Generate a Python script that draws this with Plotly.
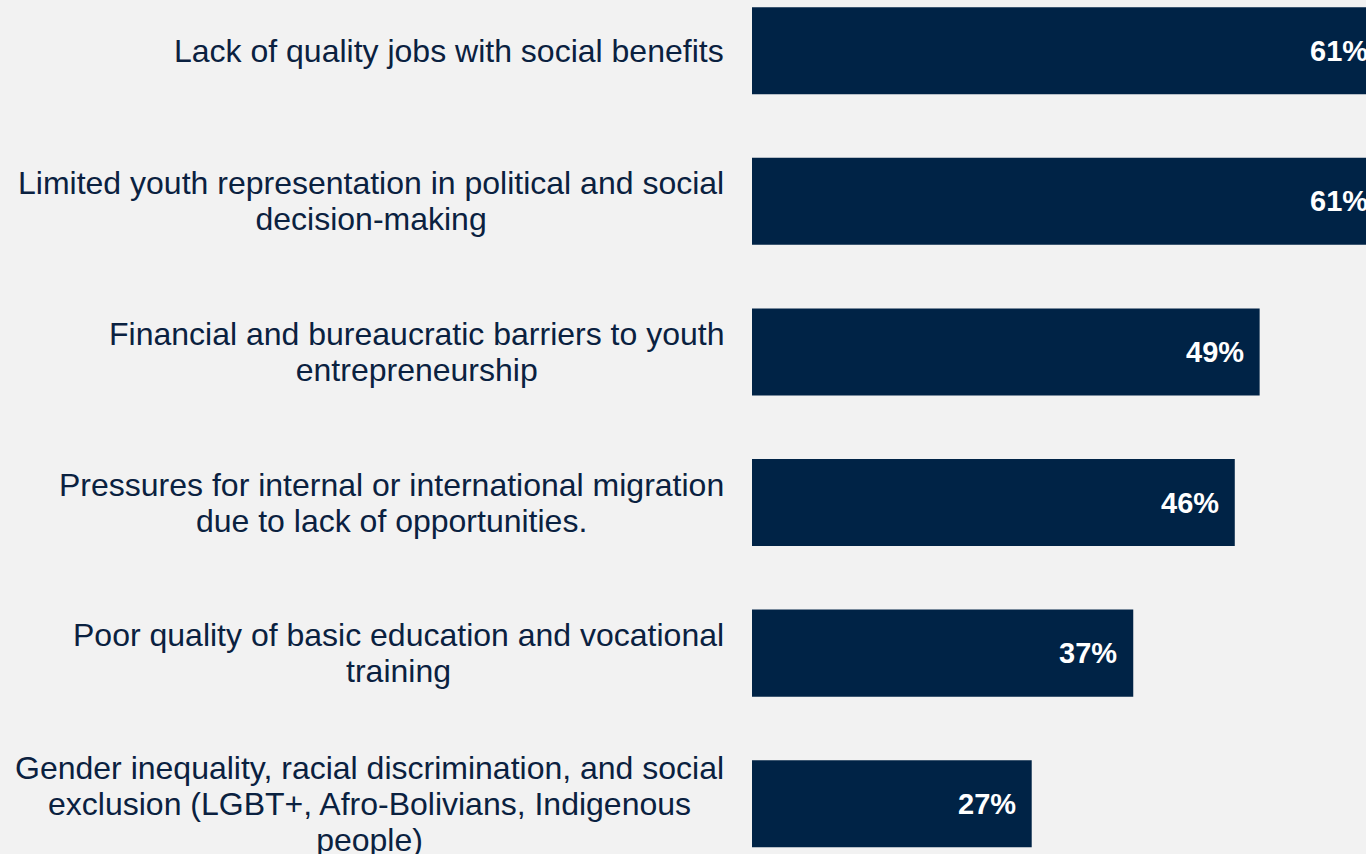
import plotly.graph_objects as go

# ---- data ----
categories = [
    "Lack of quality jobs with social benefits",
    "Limited youth representation in political and social<br>decision-making",
    "Financial and bureaucratic barriers to youth<br>entrepreneurship",
    "Pressures for internal or international migration<br>due to lack of opportunities.",
    "Poor quality of basic education and vocational<br>training",
    "Gender inequality, racial discrimination, and social<br>exclusion (LGBT+, Afro-Bolivians, Indigenous<br>people)",
]
values = [61, 61, 49, 46.6, 36.8, 27]          # bar lengths (%)
value_labels = ["61%", "61%", "49%", "46%", "37%", "27%"]  # printed labels

# ---- styling ----
BAR = "#002346"
TEXT = "#0a2140"
BG = "#f2f2f2"
FONT = "Liberation Sans, Arial, sans-serif"
W, H = 1366, 854
LEFT = 752
PX_PER_PCT = 10.36
LABEL_PX = 32
LINE_PX = 36

fig = go.Figure(
    go.Bar(
        x=values,
        y=categories,
        orientation="h",
        marker=dict(color=BAR, line=dict(width=0)),
        hoverinfo="skip",
    )
)

n = len(categories)
fig.update_layout(
    width=W,
    height=H,
    margin=dict(l=LEFT, r=0, t=0, b=0),
    paper_bgcolor=BG,
    plot_bgcolor=BG,
    bargap=0.422,
    showlegend=False,
    xaxis=dict(range=[0, (W - LEFT) / PX_PER_PCT], visible=False, fixedrange=True),
    yaxis=dict(
        type="category",
        categoryorder="array",
        categoryarray=categories,
        range=[n - 1 + 0.334, -0.337],
        visible=False,
        fixedrange=True,
    ),
)

# category labels: block right-aligned, lines centred, 32px glyphs on 36px line pitch
base_size = LINE_PX / 1.3
for i, cat in enumerate(categories):
    lines = cat.split("<br>")
    text = "<br>".join(f"<span style='font-size:{LABEL_PX}px'>{ln}</span>" for ln in lines)
    fig.add_annotation(
        x=0, xref="paper", y=i, yref="y",
        xanchor="right", yanchor="middle", xshift=-26,
        text=text, showarrow=False, align="center",
        font=dict(family=FONT, size=base_size, color=TEXT),
    )

# value labels inside bar ends (text placed at the arrow tail = bar end; arrow invisible)
for i, (v, lab) in enumerate(zip(values, value_labels)):
    fig.add_annotation(
        x=0, xref="x", y=i, yref="y",
        axref="x", ax=v, ayref="y", ay=i,
        showarrow=True, arrowcolor="rgba(0,0,0,0)", arrowwidth=0.1, standoff=0, startstandoff=0,
        xanchor="right", yanchor="middle", xshift=-14,
        text=f"<b>{lab}</b>",
        font=dict(family=FONT, size=29, color="white"),
    )

fig.write_html(
    "out.html",
    config={"displayModeBar": False, "staticPlot": False},
    post_script="document.body.style.margin='0';document.body.style.overflow='hidden';",
)
